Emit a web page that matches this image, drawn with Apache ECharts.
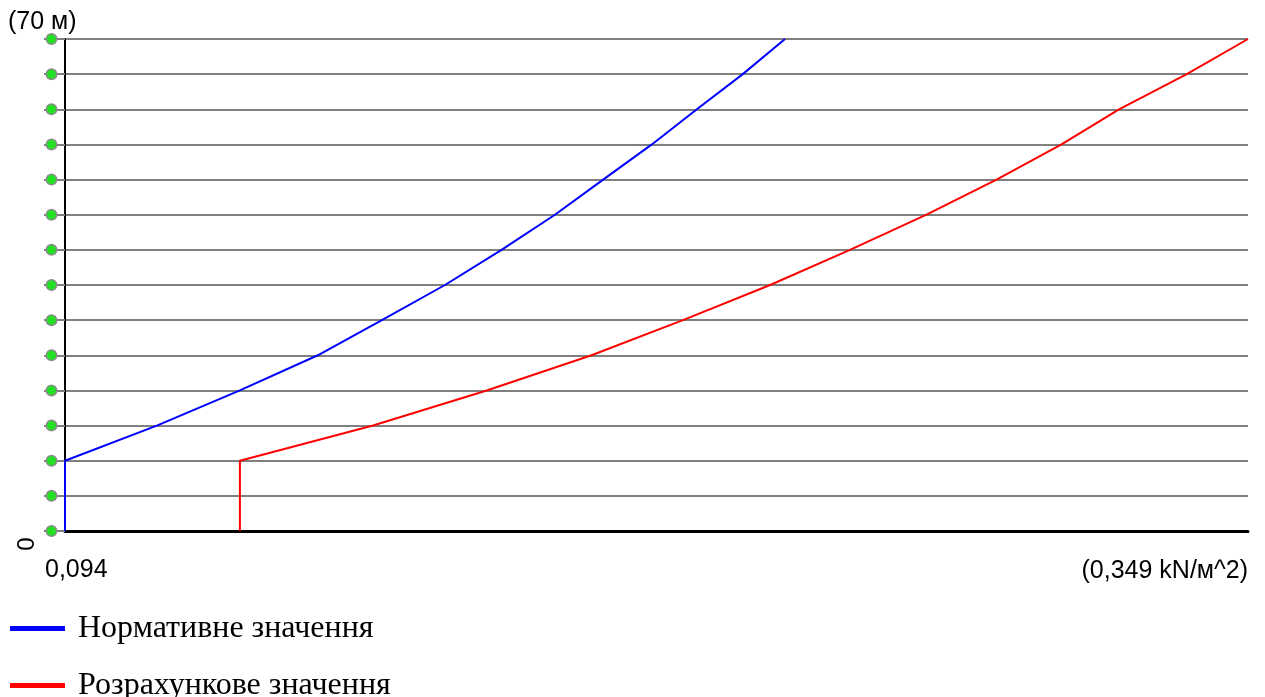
<!DOCTYPE html>
<html>
<head>
<meta charset="utf-8">
<title>Wind pressure</title>
<script src="https://cdn.jsdelivr.net/npm/echarts@6/dist/echarts.min.js"></script>
<style>
  html, body { margin: 0; padding: 0; background: #fff; }
  #chart { width: 1265px; height: 697px; }
</style>
</head>
<body>
<div id="chart"></div>
<script>
// висоти (м) і значення (kN/м^2)
var heights = [0, 10, 15, 20, 25, 30, 35, 40, 45, 50, 55, 60, 65, 70];
var normValues = [0.094, 0.094, 0.1138, 0.1317, 0.1485, 0.1623, 0.1759, 0.1881, 0.1996, 0.2100, 0.2205, 0.2302, 0.2401, 0.2492];
var calcValues = [0.1317, 0.1317, 0.1604, 0.1849, 0.2075, 0.2272, 0.2460, 0.2632, 0.2797, 0.2948, 0.3088, 0.3212, 0.3358, 0.349];
var seriesNames = ['Нормативне значення', 'Розрахункове значення'];
var xRange = [0.094, 0.349];
var yRange = [0, 70];
var yStep = 5;
var xEndLabels = ['0,094', '(0,349 kN/м^2)'];
var yEndLabels = ['0', '(70 м)'];

function pairs(vals) {
  var out = [];
  for (var i = 0; i < heights.length; i++) {
    out.push([vals[i], heights[i]]);
  }
  return out;
}

var chart = echarts.init(document.getElementById('chart'));
var sans = '"Liberation Sans", Arial, sans-serif';

// одна легенда на кожну серію, щоб стояли одна під одною
function legendAt(name, centerY) {
  return {
    left: 10,
    top: centerY - 16,
    padding: 0,
    icon: 'rect',
    itemWidth: 55,
    itemHeight: 5,
    textStyle: { fontFamily: '"Liberation Serif", "Times New Roman", serif', fontSize: 32, lineHeight: 32, color: '#000', padding: [3, 0, 0, 8] },
    data: [name]
  };
}

var option = {
  animation: false,
  backgroundColor: '#fff',
  grid: { left: 65, right: 17, top: 39, bottom: 166 },
  legend: [legendAt(seriesNames[0], 627), legendAt(seriesNames[1], 684)],
  xAxis: {
    type: 'value',
    min: xRange[0],
    max: xRange[1],
    axisLine: { show: true, onZero: false, lineStyle: { color: '#000', width: 3 } },
    axisTick: { show: false },
    axisLabel: { show: false },
    splitLine: { show: false }
  },
  yAxis: {
    type: 'value',
    min: yRange[0],
    max: yRange[1],
    interval: yStep,
    axisLine: { show: true, lineStyle: { color: '#000', width: 2 } },
    axisTick: { show: true, length: 21, lineStyle: { color: '#808080', width: 2 } },
    axisLabel: {
      show: true,
      margin: 9,
      formatter: function () { return '{dot|}'; },
      rich: {
        dot: { width: 9, height: 9, borderRadius: 5, backgroundColor: '#22e022', borderColor: '#8c8c8c', borderWidth: 1.5 }
      }
    },
    splitLine: { show: true, lineStyle: { color: '#808080', width: 2 } }
  },
  series: [
    {
      name: seriesNames[0],
      type: 'line',
      data: pairs(normValues),
      showSymbol: false,
      symbol: 'none',
      lineStyle: { color: '#0000ff', width: 2 },
      itemStyle: { color: '#0000ff' }
    },
    {
      name: seriesNames[1],
      type: 'line',
      data: pairs(calcValues),
      showSymbol: false,
      symbol: 'none',
      lineStyle: { color: '#ff0000', width: 2 },
      itemStyle: { color: '#ff0000' }
    }
  ],
  graphic: [
    { type: 'text', x: 8, y: 22, style: { text: yEndLabels[1], font: '25px ' + sans, fill: '#000', align: 'left', verticalAlign: 'middle' } },
    { type: 'text', x: 27, y: 544, rotation: Math.PI / 2, style: { text: yEndLabels[0], font: '24px ' + sans, fill: '#000', align: 'center', verticalAlign: 'middle' } },
    { type: 'text', x: 45, y: 570, style: { text: xEndLabels[0], font: '25px ' + sans, fill: '#000', align: 'left', verticalAlign: 'middle' } },
    { type: 'text', x: 1248, y: 571, style: { text: xEndLabels[1], font: '25px ' + sans, fill: '#000', align: 'right', verticalAlign: 'middle' } }
  ]
};

chart.setOption(option);
</script>
</body>
</html>
